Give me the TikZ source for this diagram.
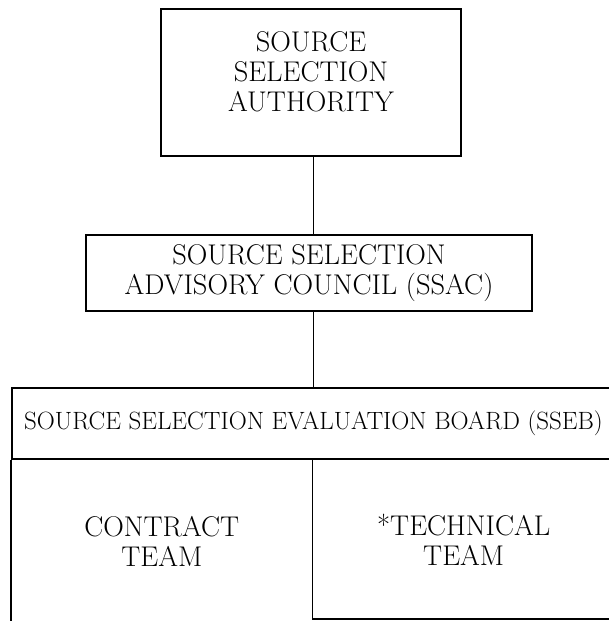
\documentclass[tikz,border=0pt]{standalone}
\usepackage{tikz}
\usetikzlibrary{positioning}
\tikzset{
box/.style={draw, line width=1.8pt, inner sep=0pt}, % frame round one unit
unit/.style={align=center, font=\fontsize{28.5}{30}\selectfont}, % text of a unit
rule/.style={line width=1.8pt}, % connecting lines
}

\begin{document}
\begin{tikzpicture}[x=1pt,y=-1pt]
   \useasboundingbox (0,0) rectangle (609,621);
   \node[box, minimum width=300pt, minimum height=147pt] (ssa) at (311,82.5) {};
   \node[unit] (ssa_text) at (311,72) {SOURCE\\SELECTION\\AUTHORITY};
   \node[box, unit, minimum width=446pt, minimum height=76pt] (ssac) at (309,273) {SOURCE SELECTION\\ADVISORY COUNCIL (SSAC)};
   \node[box, minimum width=603pt, minimum height=71pt, font=\fontsize{25}{28}\selectfont] (sseb) at (313.5,423.5) {SOURCE SELECTION EVALUATION BOARD (SSEB)};
   \node[unit, minimum width=301pt, minimum height=162pt, inner sep=0pt] (contract) [below right=0pt and 0pt of sseb.south west] {CONTRACT\\TEAM};
   \node[unit, minimum width=302pt, minimum height=159pt, inner sep=0pt] (technical) [right=0pt of contract.north east, anchor=north west] {*TECHNICAL\\TEAM};
   \draw[rule] (ssa.south -| sseb) -- (ssac.north -| sseb);
   \draw[rule] (ssac.south -| sseb) -- (sseb.north);
   \draw[rule] (contract.north west) -- (contract.south west);
   \draw[rule] (technical.north west) -- (technical.south west) -- (technical.south east) -- (technical.north east);
\end{tikzpicture}
\end{document}
